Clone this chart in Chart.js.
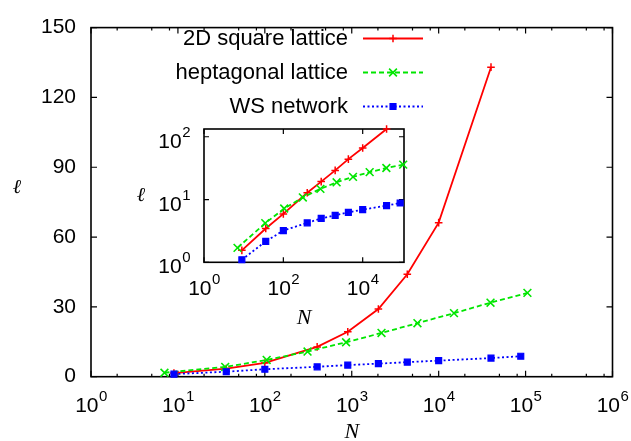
<!DOCTYPE html>
<html>
<head>
<meta charset="utf-8">
<script src="https://cdn.jsdelivr.net/npm/chart.js@4.4.1/dist/chart.umd.min.js"></script>
<style>
  html, body { margin: 0; padding: 0; background: #fff; }
  #wrap { position: relative; width: 631px; height: 441px; }
  #main { position: absolute; left: 0; top: 0; }
  #inset { position: absolute; left: 120px; top: 115px; }
</style>
</head>
<body>
<div id="wrap">
  <canvas id="main" width="631" height="441" style="width:631px;height:441px"></canvas>
  <canvas id="inset" width="300" height="220" style="width:300px;height:220px"></canvas>
</div>
<script>
// values
const seriesNames = ["2D square lattice", "heptagonal lattice", "WS network"];
const squareN = [9, 36, 100, 400, 900, 2025, 4356, 10000, 40000];
const squareL = [1.55, 3.45, 5.9, 12.8, 19.3, 29.1, 44, 66.2, 133];
const heptN = [7, 35, 105, 310, 860, 2200, 5700, 15000, 39500, 105000];
const heptL = [1.7, 4.2, 7.2, 10.8, 14.8, 18.8, 23, 27.3, 31.8, 36];
const wsN = [9, 36, 100, 400, 900, 2025, 4356, 10000, 40000, 88000];
const wsL = [1.1, 2.15, 3.2, 4.25, 5.0, 5.6, 6.25, 6.9, 8.0, 8.8];

const mainXTicks = [1, 10, 100, 1000, 10000, 100000, 1000000];
const mainYTicks = [0, 30, 60, 90, 120, 150];
const insetXTicks = [1, 100, 10000];
const insetYTicks = [1, 10, 100];

const sans = "'Liberation Sans', Arial, sans-serif";
const serif = "'Liberation Serif', 'DejaVu Serif', serif";

function pts(xs, ys) {
  return xs.map((x, i) => ({ x: x, y: ys[i] }));
}

function makeDatasets() {
  return [
    { label: seriesNames[0], data: pts(squareN, squareL), borderColor: "#ff0000", backgroundColor: "#ff0000",
      borderWidth: 1.8, pointStyle: "cross", pointRadius: 3.8, pointBorderWidth: 1.5, order: 2, clip: false },
    { label: seriesNames[1], data: pts(heptN, heptL), borderColor: "#00e600", backgroundColor: "#00e600",
      borderWidth: 1.8, borderDash: [5, 3], pointStyle: "crossRot", pointRadius: 5.5, pointBorderWidth: 1.6, order: 1, clip: false },
    { label: seriesNames[2], data: pts(wsN, wsL), borderColor: "#0000ff", backgroundColor: "#0000ff",
      borderWidth: 1.8, borderDash: [2, 2.5], pointStyle: "rect", pointRadius: 4.2, pointBorderWidth: 1.2, order: 0, clip: false },
  ];
}

// gnuplot style frame with inward ticks on all sides
const frameTicks = {
  id: "frameTicks",
  beforeDatasetsDraw(chart, args, opts) {
    const { ctx, chartArea: a, scales } = chart;
    ctx.save();
    ctx.strokeStyle = "#000";
    ctx.lineWidth = 1.2;
    const mark = (vals, len, isX) => {
      vals.forEach((v) => {
        ctx.beginPath();
        if (isX) {
          const p = scales.x.getPixelForValue(v);
          ctx.moveTo(p, a.bottom); ctx.lineTo(p, a.bottom - len);
          ctx.moveTo(p, a.top); ctx.lineTo(p, a.top + len);
        } else {
          const p = scales.y.getPixelForValue(v);
          ctx.moveTo(a.left, p); ctx.lineTo(a.left + len, p);
          ctx.moveTo(a.right, p); ctx.lineTo(a.right - len, p);
        }
        ctx.stroke();
      });
    };
    mark(opts.xMajor || [], opts.major, true);
    mark(opts.xMinor || [], opts.minor, true);
    mark(opts.yMajor || [], opts.major, false);
    ctx.lineWidth = 1.6;
    ctx.strokeRect(a.left, a.top, a.right - a.left, a.bottom - a.top);
    ctx.restore();
  },
};

// 10^k tick labels with a real raised exponent, placed at the scale's tick pixels
const powTicks = {
  id: "powTicks",
  afterDraw(chart, args, opts) {
    const ctx = chart.ctx;
    ctx.save();
    ctx.fillStyle = "#000";
    ctx.textBaseline = "alphabetic";
    ctx.textAlign = "left";
    const big = opts.size + "px " + sans;
    const small = opts.sup + "px " + sans;
    const draw = (v, cx, base, align) => {
      const e = String(Math.round(Math.log10(v)));
      ctx.font = big;
      const w1 = ctx.measureText("10").width;
      ctx.font = small;
      const w2 = ctx.measureText(e).width;
      const left = align === "center" ? cx - (w1 + w2) / 2 : cx - (w1 + w2);
      ctx.font = big;
      ctx.fillText("10", left, base);
      ctx.font = small;
      ctx.fillText(e, left + w1 + 0.5, base - opts.raise);
    };
    (opts.x || []).forEach((v) => draw(v, chart.scales.x.getPixelForValue(v), opts.xBase, "center"));
    (opts.y || []).forEach((v) => draw(v, opts.yRight, chart.scales.y.getPixelForValue(v) + opts.yOff, "right"));
    ctx.restore();
  },
};

// upright ell label (chart.js would rotate it)
const ellLabel = {
  id: "ellLabel",
  afterDraw(chart, args, opts) {
    const ctx = chart.ctx;
    ctx.save();
    ctx.fillStyle = "#000";
    ctx.font = "italic " + opts.size + "px " + serif;
    ctx.textAlign = "center";
    ctx.textBaseline = "middle";
    ctx.fillText("ℓ", opts.x, opts.y);
    ctx.restore();
  },
};

// key: text right aligned, line sample with marker on the right
const keyBox = {
  id: "keyBox",
  afterDraw(chart) {
    const ctx = chart.ctx;
    const textRight = 348, x0 = 363, x1 = 423, y0 = 38.5, dy = 34;
    chart.data.datasets.forEach((ds, i) => {
      const y = y0 + i * dy;
      ctx.save();
      ctx.fillStyle = "#000";
      ctx.font = "22px " + sans;
      ctx.textAlign = "right";
      ctx.textBaseline = "middle";
      ctx.fillText(ds.label, textRight, y);
      ctx.strokeStyle = ds.borderColor;
      ctx.lineWidth = ds.borderWidth;
      ctx.setLineDash(ds.borderDash || []);
      ctx.beginPath();
      ctx.moveTo(x0, y);
      ctx.lineTo(x1, y);
      ctx.stroke();
      ctx.setLineDash([]);
      if (Chart.helpers && Chart.helpers.drawPoint) {
        ctx.fillStyle = ds.backgroundColor;
        ctx.lineWidth = ds.pointBorderWidth;
        Chart.helpers.drawPoint(ctx, { pointStyle: ds.pointStyle, radius: ds.pointRadius, rotation: 0, borderWidth: ds.pointBorderWidth }, (x0 + x1) / 2, y);
      }
      ctx.restore();
    });
  },
};

const mainMinor = [];
for (let k = 0; k < 6; k++) {
  [2, 5, 8].forEach((m) => mainMinor.push(m * Math.pow(10, k)));
}

new Chart(document.getElementById("main"), {
  type: "line",
  data: { datasets: makeDatasets() },
  plugins: [frameTicks, powTicks, ellLabel, keyBox],
  options: {
    responsive: false,
    animation: false,
    layout: { padding: { left: 0, right: 18.5, top: 15.7, bottom: 0 } },
    plugins: {
      legend: { display: false },
      tooltip: { enabled: false },
      frameTicks: { xMajor: mainXTicks, xMinor: mainMinor, yMajor: mainYTicks, major: 6, minor: 3 },
      powTicks: { x: mainXTicks, xBase: 412, size: 21, sup: 15, raise: 11 },
      ellLabel: { x: 17, y: 188, size: 20 },
    },
    scales: {
      x: {
        type: "logarithmic",
        min: 1, max: 1000000,
        grid: { display: false, drawTicks: false },
        border: { display: false },
        afterBuildTicks: (s) => { s.ticks = mainXTicks.map((v) => ({ value: v })); },
        afterFit: (s) => { s.height = 441 - 376.7; },
        ticks: { display: false },
        title: { display: true, text: "N", color: "#000", padding: 0,
          font: { family: serif, style: "italic", size: 22, lineHeight: 0.8 } },
      },
      y: {
        type: "linear",
        min: 0, max: 150,
        grid: { display: false, drawTicks: false },
        border: { display: false },
        afterBuildTicks: (s) => { s.ticks = mainYTicks.map((v) => ({ value: v })); },
        afterFit: (s) => { s.width = 91; },
        ticks: { padding: 15, color: "#000", font: { family: sans, size: 21 } },
      },
    },
  },
});

new Chart(document.getElementById("inset"), {
  type: "line",
  data: { datasets: makeDatasets() },
  plugins: [frameTicks, powTicks, ellLabel],
  options: {
    responsive: false,
    animation: false,
    layout: { padding: { left: 0, right: 16, top: 14, bottom: 0 } },
    plugins: {
      legend: { display: false },
      tooltip: { enabled: false },
      frameTicks: { xMajor: insetXTicks, xMinor: [], yMajor: insetYTicks, major: 5, minor: 0 },
      powTicks: { x: insetXTicks, xBase: 180, y: insetYTicks, yRight: 70, yOff: 11, size: 21, sup: 15, raise: 11 },
      ellLabel: { x: 21, y: 81, size: 20 },
    },
    scales: {
      x: {
        type: "logarithmic",
        min: 1, max: 110000,
        grid: { display: false, drawTicks: false },
        border: { display: false },
        afterBuildTicks: (s) => { s.ticks = insetXTicks.map((v) => ({ value: v })); },
        afterFit: (s) => { s.height = 220 - 147.3; },
        ticks: { display: false },
        title: { display: true, text: "N", color: "#000", padding: { top: 0, bottom: 6 },
          font: { family: serif, style: "italic", size: 22, lineHeight: 1.0 } },
      },
      y: {
        type: "logarithmic",
        min: 1, max: 133,
        grid: { display: false, drawTicks: false },
        border: { display: false },
        afterBuildTicks: (s) => { s.ticks = insetYTicks.map((v) => ({ value: v })); },
        afterFit: (s) => { s.width = 84; },
        ticks: { display: false },
      },
    },
  },
});
</script>
</body>
</html>
